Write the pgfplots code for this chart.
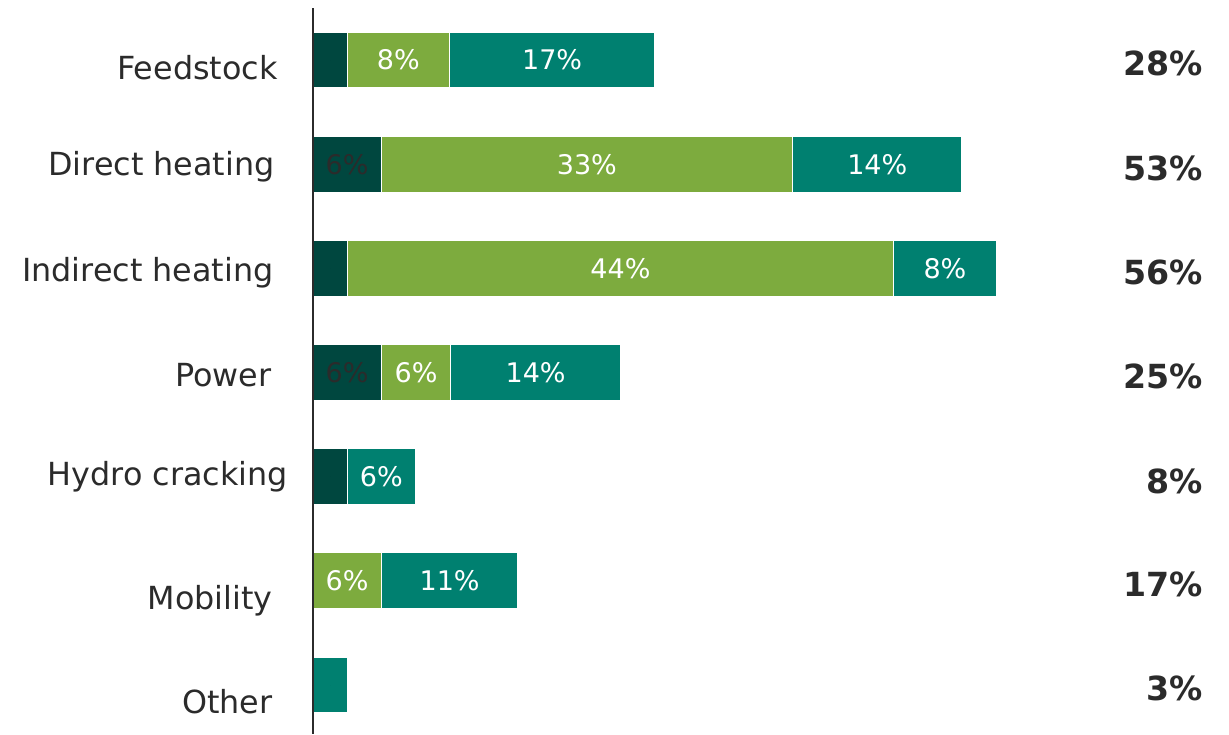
\documentclass[border=0pt]{standalone}
\usepackage{fontspec}
\setmainfont{DejaVu Sans}
\usepackage{pgfplots}
\usepackage{pgfplotstable}
\pgfplotsset{compat=1.18}
\definecolor{cdark}{HTML}{00473F}
\definecolor{clight}{HTML}{7DAB3E}
\definecolor{cteal}{HTML}{008070}
\definecolor{ctext}{HTML}{2B2B2B}
% values (percent of total) and label positions (segment centres)
\pgfplotstableread[col sep=comma]{
y,dark,light,teal,dm,lm,tm,dl,ll,tl
0,2.8,8.4,16.8,1.4,7.0,19.6,,8\%,17\%
1,5.6,33.7,13.9,2.8,22.45,46.25,6\%,33\%,14\%
2,2.8,44.8,8.4,1.4,25.2,51.8,,44\%,8\%
3,5.6,5.7,13.9,2.8,8.45,18.25,6\%,6\%,14\%
4,2.8,0,5.6,1.4,2.8,5.6,,,6\%
5,0,5.6,11.2,0,2.8,11.2,,6\%,11\%
6,0,0,2.8,0,0,1.4,,,
}\datatable
\begin{document}
\begin{tikzpicture}[
  cat/.style={anchor=east, inner sep=0pt, font=\fontsize{15.9}{18}\selectfont, text=ctext, text height=11.6pt, text depth=0pt},
  tot/.style={anchor=east, inner sep=0pt, font=\fontsize{16.6}{19}\selectfont\bfseries, text=ctext, text height=12.1pt, text depth=0pt}
]
\pgfplotsset{common/.style={
  at={(0,0)}, anchor=south west,
  scale only axis, width=458pt, height=363pt,
  xmin=0, xmax=75.082, ymin=-0.5, ymax=6.47, y dir=reverse,
  axis line style={draw=none}, ticks=none,
  clip=false}}
\begin{axis}[common,
  xbar stacked, bar width=28pt,
]
\addplot[fill=cdark, draw=white, line width=0.6pt] table[x=dark, y=y] {\datatable};
\addplot[fill=clight, draw=white, line width=0.6pt] table[x=light, y=y] {\datatable};
\addplot[fill=cteal, draw=white, line width=0.6pt] table[x=teal, y=y] {\datatable};
\end{axis}
\begin{axis}[common,
  point meta=explicit symbolic,
  nodes near coords,
  nodes near coords align={center},
  every node near coord/.append style={font=\fontsize{13.5}{16}\selectfont, anchor=center, inner sep=0pt},
]
\addplot[only marks, mark=*, mark size=0pt, mark options={draw=none, fill=none},
  every node near coord/.append style={text=ctext}]
  table[x=dm, y=y, meta=dl] {\datatable};
\addplot[only marks, mark=*, mark size=0pt, mark options={draw=none, fill=none},
  every node near coord/.append style={text=white}]
  table[x=lm, y=y, meta=ll] {\datatable};
\addplot[only marks, mark=*, mark size=0pt, mark options={draw=none, fill=none},
  every node near coord/.append style={text=white}]
  table[x=tm, y=y, meta=tl] {\datatable};
\draw[color=ctext, line width=1pt] (axis cs:0,-0.5) -- (axis cs:0,6.47);
\node[cat] at (axis cs:-2.869,0.077) {Feedstock};
\node[cat] at (axis cs:-3.115,0.992) {Direct heating};
\node[cat] at (axis cs:-3.197,2.016) {Indirect heating};
\node[cat] at (axis cs:-3.385,3.024) {Power};
\node[cat] at (axis cs:-2.025,3.968) {Hydro cracking};
\node[cat] at (axis cs:-3.279,5.165) {Mobility};
\node[cat] at (axis cs:-3.279,6.163) {Other};
\node[tot] at (axis cs:72.95,0.032) {28\%};
\node[tot] at (axis cs:72.95,1.037) {53\%};
\node[tot] at (axis cs:72.95,2.035) {56\%};
\node[tot] at (axis cs:72.95,3.040) {25\%};
\node[tot] at (axis cs:72.95,4.042) {8\%};
\node[tot] at (axis cs:72.95,5.037) {17\%};
\node[tot] at (axis cs:72.95,6.029) {3\%};
\end{axis}
\pgfresetboundingbox
\path (-156.5pt,0pt) rectangle (458pt,367pt);
\end{tikzpicture}
\end{document}
